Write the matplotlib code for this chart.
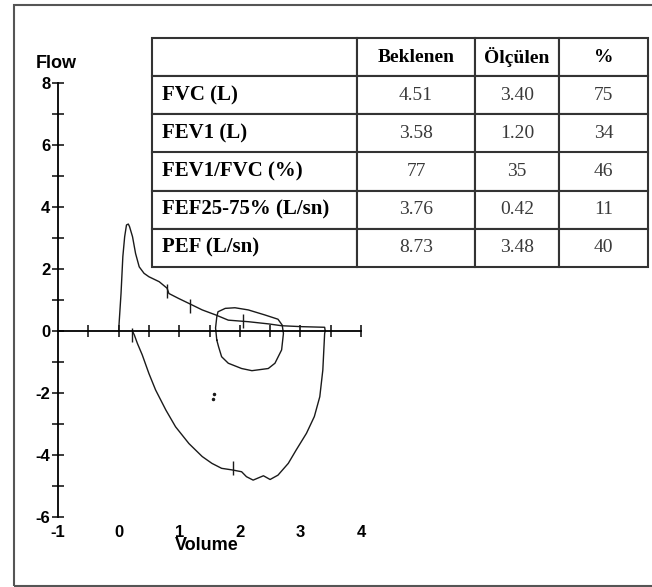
import numpy as np
import matplotlib
matplotlib.use("Agg")
import matplotlib.pyplot as plt
from matplotlib.patches import Rectangle

# flow-volume loop (expiration then inspiration)
vol_loop = [0.00, 0.02, 0.04, 0.07, 0.10, 0.13, 0.16, 0.18, 0.23, 0.28, 0.34, 0.42, 0.50,
            0.67, 0.80, 0.83, 0.99, 1.16, 1.38, 1.60, 1.81, 2.14, 2.47, 2.69, 3.02, 3.40,
            3.41, 3.40, 3.37, 3.32, 3.23, 3.10, 2.93, 2.80, 2.63, 2.50, 2.39, 2.22, 2.11,
            2.03, 1.87, 1.70, 1.54, 1.38, 1.16, 0.94, 0.78, 0.61, 0.50, 0.39, 0.31, 0.26, 0.24]
flow_loop = [0.00, 0.60, 1.21, 2.40, 3.04, 3.42, 3.45, 3.37, 3.04, 2.50, 2.07, 1.86, 1.75,
             1.59, 1.38, 1.21, 1.05, 0.89, 0.68, 0.52, 0.35, 0.30, 0.23, 0.17, 0.14, 0.12,
             0.00, -0.08, -1.26, -2.12, -2.76, -3.30, -3.84, -4.27, -4.65, -4.79, -4.67,
             -4.81, -4.70, -4.54, -4.48, -4.43, -4.27, -4.05, -3.63, -3.09, -2.55, -1.90,
             -1.37, -0.77, -0.40, -0.13, -0.05]

# small tidal loop
vol_tidal = [1.62, 1.60, 1.62, 1.64, 1.76, 1.92, 2.14, 2.41, 2.63, 2.70, 2.72, 2.69, 2.58,
             2.47, 2.20, 2.03, 1.81, 1.70, 1.65, 1.62]
flow_tidal = [-0.29, 0.10, 0.45, 0.62, 0.73, 0.75, 0.68, 0.52, 0.38, 0.19, -0.08, -0.61,
              -1.04, -1.21, -1.28, -1.21, -1.04, -0.83, -0.51, -0.29]

# time marks on the curves
mark_vol = [0.80, 1.17, 2.06, 1.89, 0.22]
mark_flow = [1.28, 0.80, 0.32, -4.42, -0.14]

dot_vol = [1.58, 1.55]
dot_flow = [-2.03, -2.20]

x_labels = [-1, 0, 1, 2, 3, 4]
y_major = [-6, -4, -2, 0, 2, 4, 6, 8]
y_minor = [-5, -3, -1, 1, 3, 5, 7]
x_ticks = [-0.5, 0, 0.5, 1, 1.5, 2, 2.5, 3, 3.5, 4]

columns = ["", "Beklenen", "Ölçülen", "%"]
rows = ["FVC (L)", "FEV1 (L)", "FEV1/FVC (%)", "FEF25-75% (L/sn)", "PEF (L/sn)"]
beklenen = ["4.51", "3.58", "77", "3.76", "8.73"]
olculen = ["3.40", "1.20", "35", "0.42", "3.48"]
yuzde = ["75", "34", "46", "11", "40"]

W, H = 652, 587
fig = plt.figure(figsize=(W / 100, H / 100), dpi=100)
fig.patch.set_facecolor("white")

# outer frame
fig.patches.append(Rectangle((14 / W, 1 / H), 640 / W, (582 - 1) / H, transform=fig.transFigure,
                             fill=False, edgecolor="#555555", linewidth=1.5))

ax = fig.add_axes([58 / W, 70 / H, 303 / W, 434 / H])
ax.patch.set_visible(False)
ax.set_xlim(-1, 4)
ax.set_ylim(-6, 8)

ax.plot(vol_loop, flow_loop, color="#1a1a1a", linewidth=1.0)
ax.plot(vol_tidal, flow_tidal, color="#1a1a1a", linewidth=1.0)
ax.plot(mark_vol, mark_flow, linestyle="none", marker="|", markersize=10,
        markeredgewidth=1.0, color="#1a1a1a")
ax.plot(dot_vol, dot_flow, linestyle="none", marker="o", markersize=1.5, color="#1a1a1a")

for s in ["top", "right"]:
    ax.spines[s].set_visible(False)
ax.spines["left"].set_position(("data", -1))
ax.spines["bottom"].set_position(("data", 0))
ax.spines["left"].set_linewidth(1.3)
ax.spines["bottom"].set_linewidth(1.3)

ax.set_xticks(x_ticks)
ax.set_xticklabels([])
ax.set_yticks(y_major)
ax.set_yticks(y_minor, minor=True)
ax.set_yticklabels([str(v) for v in y_major], fontfamily="Liberation Sans",
                   fontweight="bold", fontsize=12)
ax.tick_params(axis="both", which="both", direction="inout", length=9, width=1.2, color="#1a1a1a")
ax.tick_params(axis="y", pad=1)

for v in x_labels:
    ax.text(v, -6.5, str(v), ha="center", va="center", fontfamily="Liberation Sans",
            fontweight="bold", fontsize=12, clip_on=False)

fig.text(207 / W, 1 - 546 / H, "Volume", ha="center", va="center",
         fontfamily="Liberation Sans", fontweight="bold", fontsize=13)
fig.text(56 / W, 1 - 64 / H, "Flow", ha="center", va="center",
         fontfamily="Liberation Sans", fontweight="bold", fontsize=13)

# table
tax = fig.add_axes([152 / W, (H - 267) / H, (648 - 152) / W, (267 - 38) / H])
tax.axis("off")
cell_text = [[r, b, o, p] for r, b, o, p in zip(rows, beklenen, olculen, yuzde)]
col_w = np.array([205, 118, 84, 89]) / 496
tbl = tax.table(cellText=cell_text, colLabels=columns, colWidths=col_w,
                cellLoc="center", bbox=[0, 0, 1, 1])
tbl.auto_set_font_size(False)
for (r, c), cell in tbl.get_celld().items():
    cell.set_edgecolor("#333333")
    cell.set_linewidth(1.5)
    txt = cell.get_text()
    txt.set_fontfamily("Liberation Serif")
    if r == 0:
        txt.set_fontweight("bold")
        txt.set_fontsize(14)
        txt.set_color("black")
    elif c == 0:
        txt.set_fontweight("bold")
        txt.set_fontsize(15)
        txt.set_color("black")
    else:
        txt.set_fontsize(14)
        txt.set_color("#3a3a3a")
    if c == 0:
        cell._loc = "left"
        cell.PAD = 0.05
        txt.set_horizontalalignment("left")

fig.savefig("out.png", dpi=100)
